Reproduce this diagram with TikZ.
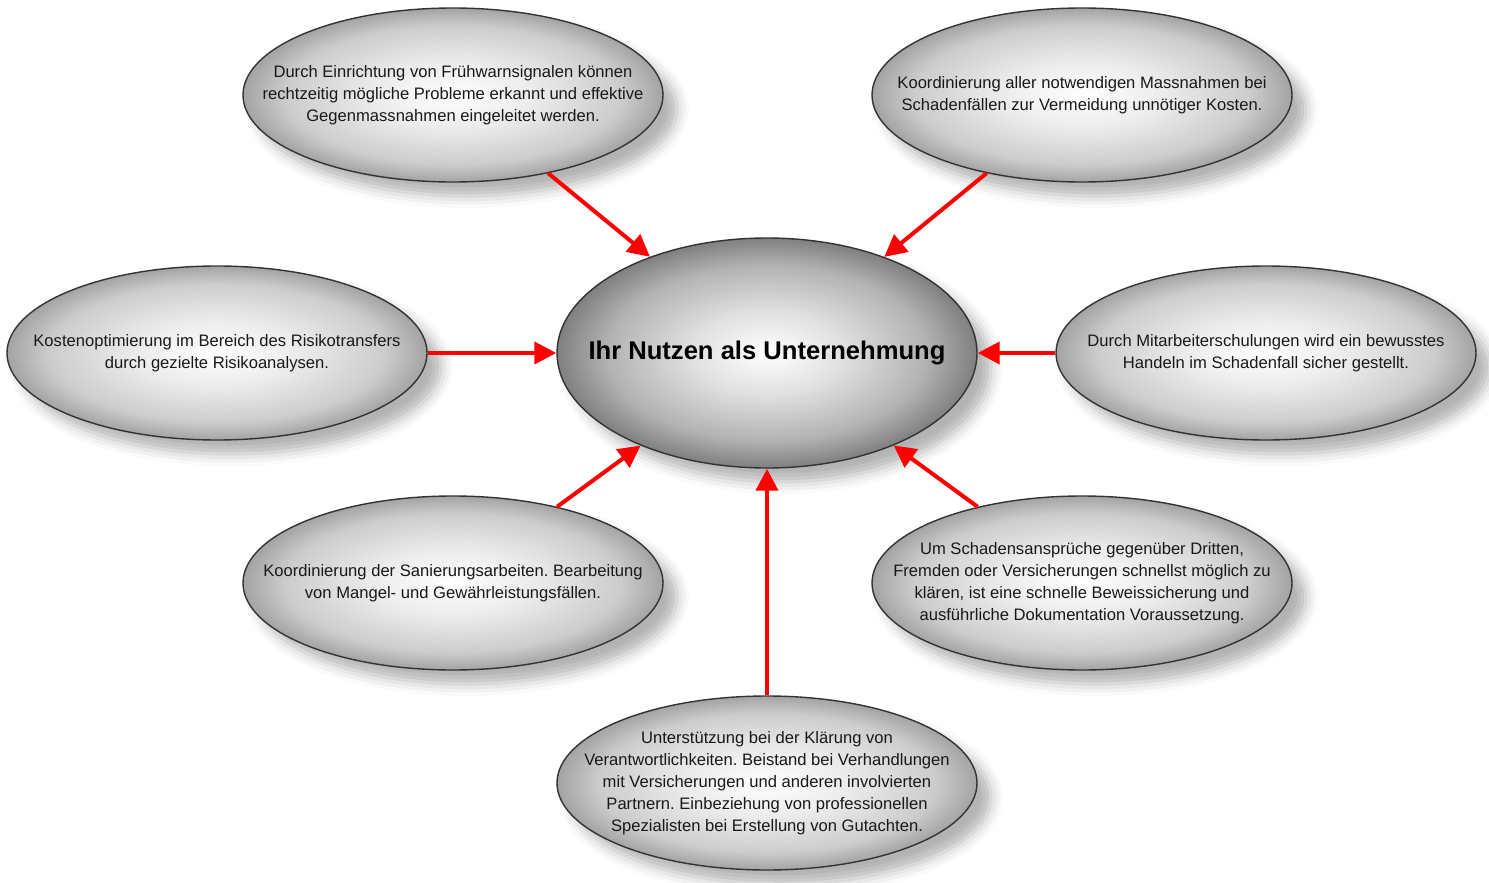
\documentclass[tikz,border=0pt]{standalone}
\usepackage{fontspec}
\setmainfont{Liberation Sans}
\usetikzlibrary{shapes.geometric,shadows.blur,arrows.meta}
\frenchspacing
\pgfdeclareradialshading{bubbleshade}{\pgfpoint{0bp}{0bp}}{color(0bp)=(white);color(10bp)=(black!8);color(20bp)=(black!20);color(25bp)=(black!36);color(50bp)=(black!36)}
\pgfdeclareradialshading{hubshade}{\pgfpoint{0bp}{0bp}}{color(0bp)=(white);color(9bp)=(black!12);color(19bp)=(black!30);color(25bp)=(black!50);color(50bp)=(black!50)}

\begin{document}
\begin{tikzpicture}[x=0.5pt,y=-0.5pt]
	\tikzset{bubble/.style={ellipse,draw=black!80,line width=0.7pt,minimum width=210pt,minimum height=87pt,
		shading=bubbleshade,
		blur shadow={shadow xshift=7pt,shadow yshift=-7pt,shadow blur radius=6pt,shadow opacity=30}}}
	\tikzset{hub/.style={bubble,minimum width=210pt,minimum height=115pt,shading=hubshade}}
	\tikzset{txt/.style={align=center,text=black!90,font=\fontsize{8.3}{11}\selectfont}}
	\tikzset{arr/.style={draw=red,line width=2pt,-{Triangle[length=11pt,width=11pt]}}}
	\useasboundingbox (0,0) rectangle (1489,883);
	% central ellipse
	\node[hub] (ctr) at (767,353) {};
	\node[txt,font=\bfseries\fontsize{12.8}{15}\selectfont,text=black] (ctrt) at (ctr) {Ihr Nutzen als Unternehmung};
	% outer ellipses
	\node[bubble] (tl) at (453,95) {};
	\node[txt] (tlt) at (tl) {Durch Einrichtung von Frühwarnsignalen können\\rechtzeitig mögliche Probleme erkannt und effektive\\Gegenmassnahmen eingeleitet werden.};
	\node[bubble] (tr) at (1082,95) {};
	\node[txt] (trt) at (tr) {Koordinierung aller notwendigen Massnahmen bei\\Schadenfällen zur Vermeidung unnötiger Kosten.};
	\node[bubble] (lf) at (217,353) {};
	\node[txt] (lft) at (lf) {Kostenoptimierung im Bereich des Risikotransfers\\durch gezielte Risikoanalysen.};
	\node[bubble] (rt) at (1266,353) {};
	\node[txt] (rtt) at (rt) {Durch Mitarbeiterschulungen wird ein bewusstes\\Handeln im Schadenfall sicher gestellt.};
	\node[bubble] (bl) at (453,583) {};
	\node[txt] (blt) at (bl) {Koordinierung der Sanierungsarbeiten. Bearbeitung\\von Mangel- und Gewährleistungsfällen.};
	\node[bubble] (br) at (1082,583) {};
	\node[txt] (brt) at (br) {Um Schadensansprüche gegenüber Dritten,\\Fremden oder Versicherungen schnellst möglich zu\\klären, ist eine schnelle Beweissicherung und\\ausführliche Dokumentation Voraussetzung.};
	\node[bubble] (bt) at (767,783) {};
	\node[txt] (btt) at (bt) {Unterstützung bei der Klärung von\\Verantwortlichkeiten. Beistand bei Verhandlungen\\mit Versicherungen und anderen involvierten\\Partnern. Einbeziehung von professionellen\\Spezialisten bei Erstellung von Gutachten.};
	% arrows
	\foreach \n in {tl,tr,lf,rt,bl,br,bt}
		\draw[arr] (\n) -- (ctr);
\end{tikzpicture}
\end{document}
